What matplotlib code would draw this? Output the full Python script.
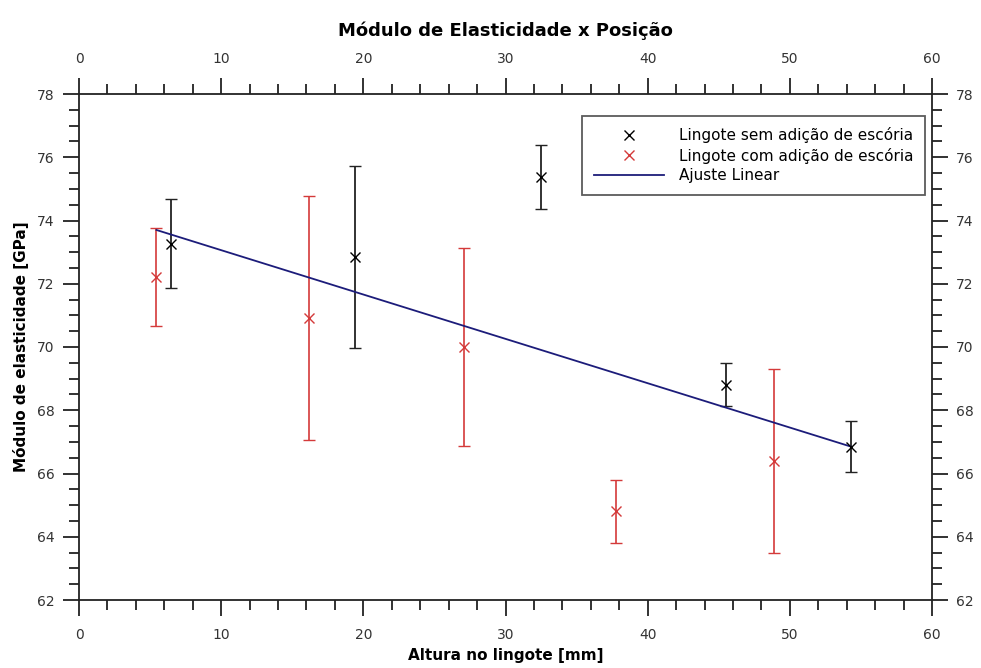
import numpy as np
import matplotlib.pyplot as plt
from matplotlib.ticker import MultipleLocator
from matplotlib.lines import Line2D

# Lingote sem adição de escória
sem_x = [6.5, 19.4, 32.5, 45.5, 54.3]
sem_y = [73.27, 72.85, 75.38, 68.8, 66.85]
sem_err = [1.42, 2.87, 1.02, 0.68, 0.8]

# Lingote com adição de escória
com_x = [5.4, 16.2, 27.1, 37.8, 48.9]
com_y = [72.2, 70.92, 70.0, 64.8, 66.4]
com_err = [1.55, 3.86, 3.13, 1.0, 2.9]

# Ajuste linear (extremos da reta)
fit_x = [5.45, 54.3]
fit_y = [73.7, 66.85]

red = '#d43a3a'
navy = '#1c1c7a'

plt.rcParams['font.family'] = 'DejaVu Sans'

fig = plt.figure(figsize=(9.81, 6.68), dpi=100)
ax = fig.add_axes([79 / 981, 1 - 600 / 668, (932 - 79) / 981, (600 - 94) / 668])

ax.errorbar(sem_x, sem_y, yerr=sem_err, fmt='x', color='black', ecolor='#222222',
            elinewidth=1.3, capsize=4.5, capthick=1.3, markersize=7, markeredgewidth=1.0)
ax.errorbar(com_x, com_y, yerr=com_err, fmt='x', color=red, ecolor=red,
            elinewidth=1.2, capsize=4.5, capthick=1.2, markersize=7, markeredgewidth=1.0)
ax.plot(fit_x, fit_y, color=navy, linewidth=1.3)

ax.set_xlim(0, 60)
ax.set_ylim(62, 78)
ax.xaxis.set_major_locator(MultipleLocator(10))
ax.xaxis.set_minor_locator(MultipleLocator(2))
ax.yaxis.set_major_locator(MultipleLocator(2))
ax.yaxis.set_minor_locator(MultipleLocator(0.5))
ax.tick_params(which='both', direction='out', top=True, right=True,
               labeltop=True, labelright=True, width=1.3, colors='#222222',
               labelcolor='#333333', labelsize=10)
ax.tick_params(which='major', length=11.5)
ax.tick_params(which='minor', length=7)
ax.tick_params(axis='x', which='major', pad=9)
ax.tick_params(axis='y', which='major', pad=6)
for s in ax.spines.values():
    s.set_linewidth(1.3)
    s.set_color('#222222')

ax.set_xlabel('Altura no lingote [mm]', fontsize=11, fontweight='bold', labelpad=4)
ax.set_ylabel('Módulo de elasticidade [GPa]', fontsize=11, fontweight='bold', labelpad=6)
ax.set_title('Módulo de Elasticidade x Posição', fontsize=13, fontweight='bold', pad=42)

handles = [
    Line2D([], [], linestyle='none', marker='x', color='black', markersize=7, markeredgewidth=1.0),
    Line2D([], [], linestyle='none', marker='x', color=red, markersize=7, markeredgewidth=1.0),
    Line2D([], [], color=navy, linewidth=1.3),
]
labels = ['Lingote sem adição de escória', 'Lingote com adição de escória', 'Ajuste Linear']
leg = ax.legend(handles, labels, loc='upper right', bbox_to_anchor=(0.992, 0.957),
                fontsize=11, frameon=True, fancybox=False, edgecolor='#333333',
                handlelength=4.6, handletextpad=1.0, borderpad=0.75,
                labelspacing=0.3, borderaxespad=0)
leg.get_frame().set_linewidth(1.3)

fig.savefig('out.png', dpi=100)
